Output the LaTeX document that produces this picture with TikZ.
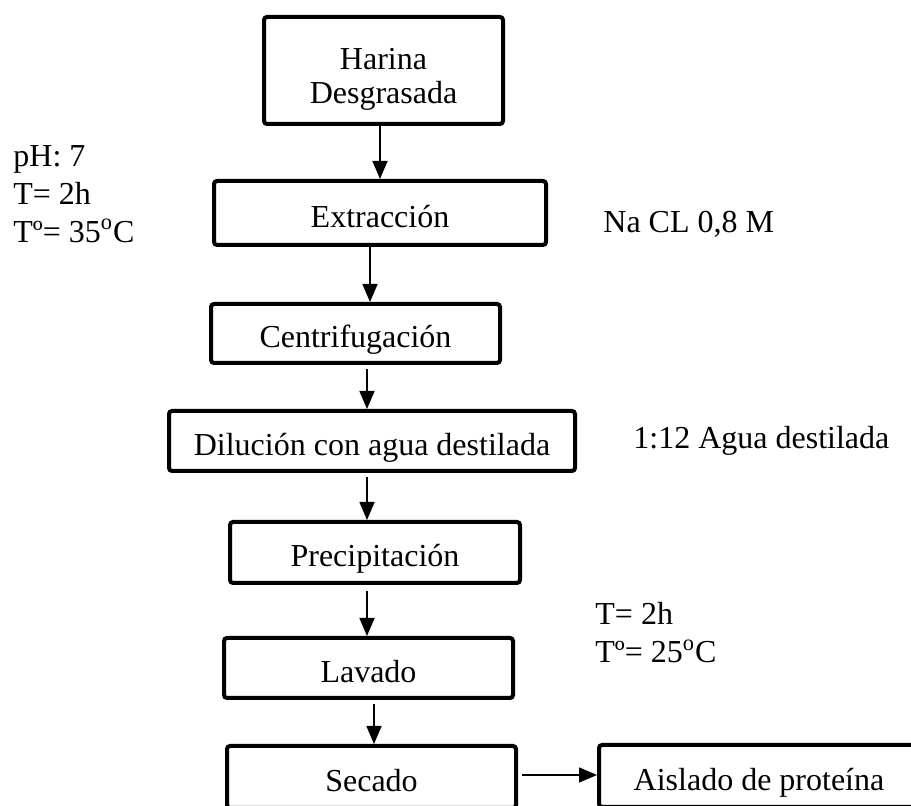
\documentclass[tikz,border=0pt]{standalone}
\usepackage{fontspec}
\setmainfont{Liberation Serif}
\usetikzlibrary{arrows.meta}

\begin{document}
\begin{tikzpicture}[x=0.5pt, y=-0.5pt,
  every node/.style={font=\fontsize{16}{19}\selectfont},
  paso/.style={draw, line width=2pt, rounded corners=1.5pt, inner sep=0pt, align=center,
    text height=14.5pt, text depth=0pt},
  flecha/.style={line width=0.8pt, -{Triangle[length=9pt,width=7.5pt]}},
  nota/.style={inner sep=0pt, align=left}]
  \useasboundingbox (0,0) rectangle (911,806);
  \clip (0,0) rectangle (911,806);
  \node[paso, minimum width=119.5pt, minimum height=53.5pt] (harina) at (383.5,70.5) {};
  \node[inner sep=0pt, align=center, font=\fontsize{16}{17}\selectfont, anchor=north] (harinatxt) at (383.5,48) {Harina\\Desgrasada};
  \node[paso, minimum width=166pt, minimum height=32pt] (extr) at (380,213) {Extracción};
  \node[paso, minimum width=144.5pt, minimum height=29.5pt] (centr) at (355.5,333.5) {Centrifugación};
  \node[paso, minimum width=203pt, minimum height=30pt] (dil) at (372,441) {Dilución con agua destilada};
  \node[paso, minimum width=145pt, minimum height=30.5pt] (prec) at (375,552.5) {Precipitación};
  \node[paso, minimum width=144.5pt, minimum height=30pt] (lav) at (368.5,668) {Lavado};
  \node[paso, minimum width=144.5pt, minimum height=31pt] (sec) at (371.5,777) {Secado};
  \node[paso, minimum width=160pt, minimum height=31pt] (ais) at (759,776) {Aislado de proteína};
  \draw[flecha] (harina.south -| extr.north) -- (extr.north);
  \draw[flecha] ([xshift=-5pt]extr.south) -- ([xshift=-5pt]extr.south |- centr.north);
  \draw[flecha] ([xshift=5.75pt,yshift=-2pt]centr.south) -- ([xshift=5.75pt]centr.south |- dil.north);
  \draw[flecha] ([xshift=-2.5pt,yshift=-2pt]dil.south) -- ([xshift=-2.5pt]dil.south |- prec.north);
  \draw[flecha] ([xshift=-4pt,yshift=-3pt]prec.south) -- ([xshift=-4pt]prec.south |- lav.north);
  \draw[flecha] ([xshift=2.75pt,yshift=-2pt]lav.south) -- ([xshift=2.75pt]lav.south |- sec.north);
  \draw[flecha] ([xshift=2pt,yshift=1pt]sec.east) -- ([yshift=1pt]sec.east -| ais.west);
  \node[nota, anchor=north west] (cond1) at (13,145) {pH: 7\\T= 2h\\Tº= 35\textsuperscript{o}C};
  \node[nota, anchor=base west] (sal) at (603,233) {Na CL 0,8 M};
  \node[nota, anchor=base west] (dilu) at (633,449) {1:12 Agua destilada};
  \node[nota, anchor=north west] (cond2) at (595,602) {T= 2h\\Tº= 25\textsuperscript{o}C};
\end{tikzpicture}
\end{document}
